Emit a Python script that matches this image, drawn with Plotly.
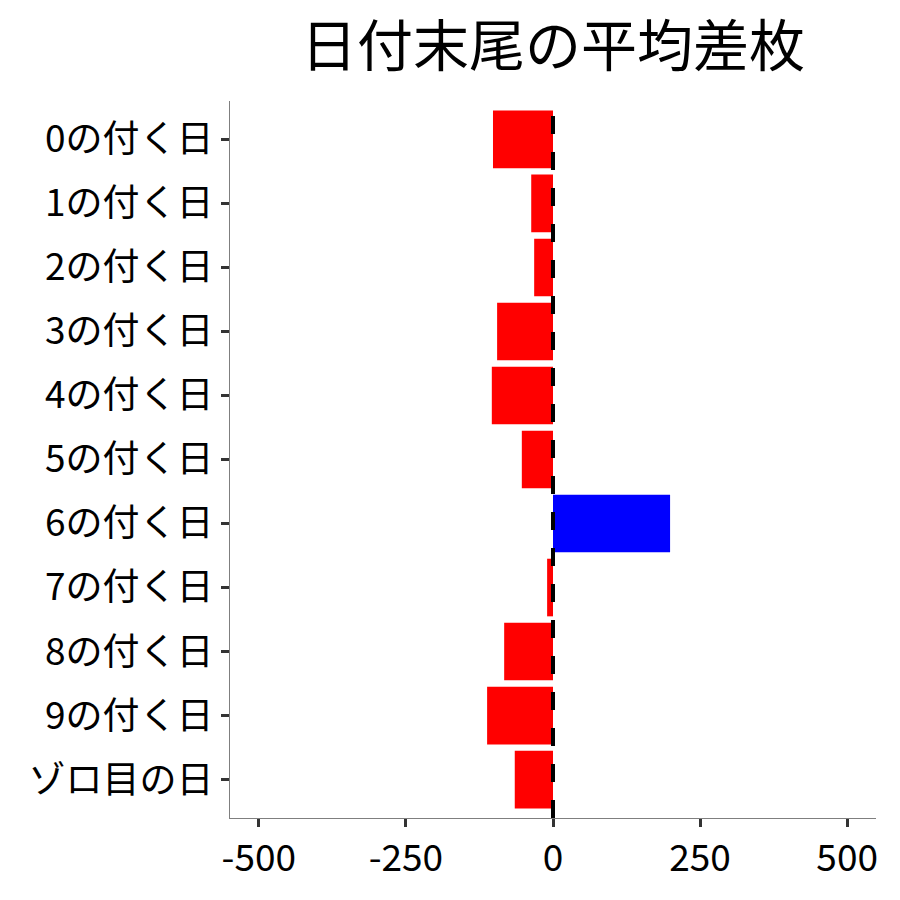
import plotly.graph_objects as go

categories = ["0の付く日", "1の付く日", "2の付く日", "3の付く日", "4の付く日",
              "5の付く日", "6の付く日", "7の付く日", "8の付く日", "9の付く日", "ゾロ目の日"]
values = [-102, -37, -32, -95, -104, -53, 199, -10, -83, -112, -65]
x_ticks = [-500, -250, 0, 250, 500]

colors = ["#0000FF" if v > 0 else "#FF0000" for v in values]

fig = go.Figure()
fig.add_trace(go.Bar(
    x=values, y=categories, orientation="h",
    marker=dict(color=colors, line=dict(width=0)),
    hoverinfo="x+y",
))

fig.add_shape(type="line", x0=0, x1=0, y0=0, y1=1, xref="x", yref="paper",
              line=dict(color="black", width=4, dash="18px,18px"), layer="above")

font_family = "Noto Sans CJK JP"
L, R, T, B = 222, 32, 93, 90
n = len(categories)
fig.update_layout(
    width=900, height=900,
    paper_bgcolor="white", plot_bgcolor="white",
    margin=dict(l=L, r=R, t=T, b=B),
    bargap=0.1,
    showlegend=False,
    font=dict(family=font_family, color="black"),
    title=dict(text="日付末尾の平均差枚", x=(L + 900 - R) / 2 / 900, xanchor="center",
               y=0.957, yanchor="middle",
               font=dict(size=56, family=font_family, color="black")),
    xaxis=dict(range=[-549, 549], tickvals=x_ticks, ticktext=[str(t) for t in x_ticks],
               showgrid=False, zeroline=False, showline=True, linecolor="#7f7f7f", linewidth=1,
               ticks="outside", ticklen=8, tickwidth=3, tickcolor="#333333",
               tickfont=dict(size=37, family=font_family, color="black")),
    yaxis=dict(categoryorder="array", categoryarray=categories,
               range=[n - 1 + 0.6, -0.6],
               showgrid=False, zeroline=False, showline=True, linecolor="#7f7f7f", linewidth=1,
               ticks="outside", ticklen=8, tickwidth=3, tickcolor="#333333",
               tickfont=dict(size=37, family=font_family, color="black")),
)

fig.write_html("out.html")
